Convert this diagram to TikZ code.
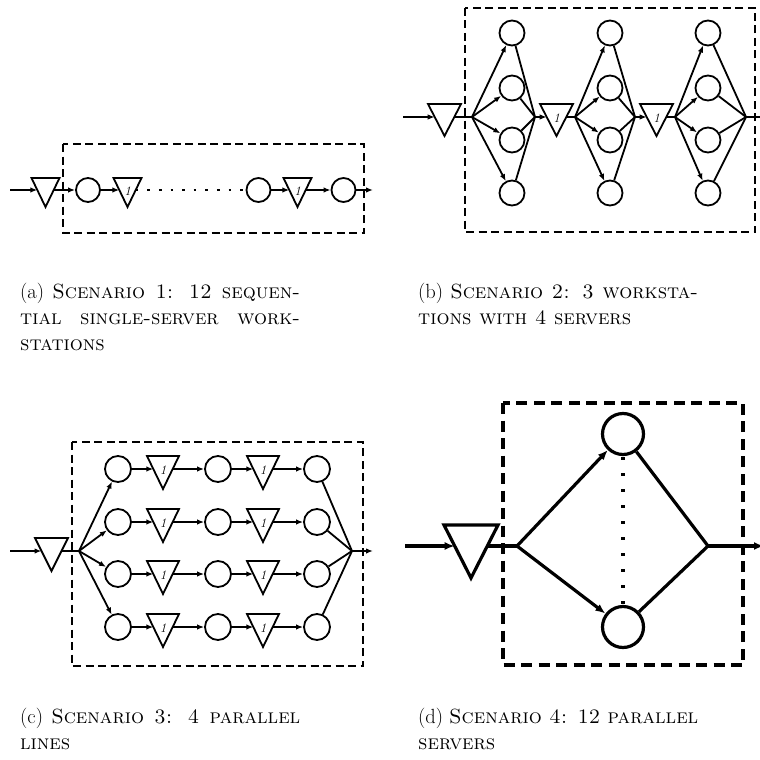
\documentclass[tikz,border=0pt]{standalone}
\usetikzlibrary{arrows.meta}
\begin{document}
\begin{tikzpicture}[x=1pt,y=-1pt,
  arr/.style={-{Latex[length=7pt,width=5.5pt]}},
  arrD/.style={-{Latex[length=10pt,width=8pt]}},
  srv/.style={circle,draw,inner sep=0pt,minimum size=#1},
  tri/.style={line join=miter},
  lbl/.style={font=\fontsize{13}{13}\selectfont\itshape, inner sep=0pt},
  box/.style={draw,dash pattern=on 8pt off 4.5pt},
  boxD/.style={draw,dash pattern=on 11pt off 6.5pt},
  dotline/.style={line width=2.6pt,dash pattern=on 2.6pt off 9pt},
  dotlineD/.style={line width=3.3pt,dash pattern=on 3.3pt off 12.7pt,dash phase=-1pt},
  captext/.style={font=\fontsize{20.5}{26}\selectfont, align=left, inner sep=0pt, anchor=base west},
  pics/buf/.style n args={4}{code={
    \draw[tri] (-#1,-#2) -- (#1,-#2) -- (0,#3) -- cycle;
    \coordinate (-in) at ({-#1*#3/(#2+#3)},0);
    \coordinate (-out) at ({#1*#3/(#2+#3)},0);
    \node[lbl] (-lab) at (0,1) {#4};
  }}
]
\useasboundingbox (0,0) rectangle (760,760);

% ---------------- (a) ----------------
\begin{scope}[line width=1.8pt]
\draw[box] (63,144) rectangle (364,233);
\coordinate (ain) at (10,190);
\pic (at0) at (45.5,190) {buf={14}{12}{17}{}};
\node[srv=24pt] (ac1) at (88,190) {};
\pic (at1) at (127.5,190) {buf={14}{12}{17}{1}};
\node[srv=24pt] (ac2) at (258.5,190) {};
\pic (at2) at (297.5,190) {buf={14}{12}{17}{1}};
\node[srv=24pt] (ac3) at (343.5,190) {};
\coordinate (aout) at (373,190);
\draw[arr] (ain) -- (at0-in);
\draw[arr] (at0-out) -- (ac1);
\draw[arr] (ac1) -- (at1-in);
\draw[dotline] (at1-out) -- (ac2);
\draw[arr] (ac2) -- (at2-in);
\draw[arr] (at2-out) -- (ac3);
\draw[arr] (ac3) -- (aout);
\end{scope}

% ---------------- (b) ----------------
\begin{scope}[line width=1.8pt]
\draw[box] (465,8) rectangle (755,232);
\coordinate (bin) at (403,117);
\pic (bt0) at (444.5,117) {buf={16.5}{13}{19}{}};
\pic (bt1) at (556.5,117) {buf={16.5}{13}{19}{1}};
\pic (bt2) at (656.5,117) {buf={16.5}{13}{19}{1}};
\coordinate (bs1) at (472,117);
\coordinate (bm1) at (535,117);
\coordinate (bs2) at (575,117);
\coordinate (bm2) at (635,117);
\coordinate (bs3) at (675,117);
\coordinate (bm3) at (746,117);
\coordinate (bout) at (772,117);
\foreach \c/\x in {1/512,2/610,3/708}{
  \foreach \r/\y in {1/33,2/88,3/140,4/193}{
    \node[srv=25pt] (b\c\r) at (\x,\y) {};
    \draw[arr] (bs\c) -- (b\c\r);
    \draw (b\c\r) -- (bm\c);
  }
}
\draw[arr] (bin) -- (bt0-in);
\draw (bt0-out) -- (bs1);
\draw[arr] (bm1) -- (bt1-in);
\draw (bt1-out) -- (bs2);
\draw[arr] (bm2) -- (bt2-in);
\draw (bt2-out) -- (bs3);
\draw[arr] (bm3) -- (bout);
\end{scope}

% ---------------- (c) ----------------
\begin{scope}[line width=1.8pt]
\draw[box] (72,442) rectangle (363,666);
\coordinate (cin) at (10,551);
\pic (ct0) at (51.5,551) {buf={16.5}{13}{20}{}};
\coordinate (cs) at (79,551);
\coordinate (cm) at (352,551);
\coordinate (cout) at (373,551);
\draw[arr] (cin) -- (ct0-in);
\draw (ct0-out) -- (cs);
\draw[arr] (cm) -- (cout);
\foreach \r/\y in {1/469,2/522,3/574,4/627}{
  \node[srv=26pt] (cc1\r) at (118,\y) {};
  \pic (cta\r) at (163,\y) {buf={16}{13}{20}{1}};
  \node[srv=26pt] (cc2\r) at (218,\y) {};
  \pic (ctb\r) at (263,\y) {buf={16}{13}{20}{1}};
  \node[srv=26pt] (cc3\r) at (317,\y) {};
  \draw[arr] (cs) -- (cc1\r);
  \draw[arr] (cc1\r) -- (cta\r-in);
  \draw[arr] (cta\r-out) -- (cc2\r);
  \draw[arr] (cc2\r) -- (ctb\r-in);
  \draw[arr] (ctb\r-out) -- (cc3\r);
  \draw (cc3\r) -- (cm);
}
\end{scope}

% ---------------- (d) ----------------
\begin{scope}[line width=3.2pt]
\draw[boxD] (503,403) rectangle (743,665);
\coordinate (din) at (405,546);
\pic (dt0) at (471,546) {buf={27}{21}{32}{}};
\coordinate (ds) at (517,546);
\coordinate (dm) at (708,546);
\coordinate (dout) at (764,546);
\node[srv=41pt] (dc1) at (623,434) {};
\node[srv=41pt] (dc2) at (623,627) {};
\draw[arrD] (din) -- (dt0-in);
\draw (dt0-out) -- (ds);
\draw[arrD] (ds) -- (dc1);
\draw[arrD] (ds) -- (dc2);
\draw (dc1) -- (dm);
\draw (dc2) -- (dm);
\draw[arrD] (dm) -- (dout);
\draw[dotlineD] (dc1.south) -- (dc2.north);
\end{scope}

% ---------------- captions ----------------
\node[captext] (capa) at (20,350) {\makebox[280pt][s]{(a) \textsc{Scenario 1: 12 sequen-}}\\
  \makebox[280pt][s]{\textsc{tial single-server work-}}\\
  \textsc{stations}};
\node[captext] (capb) at (418,324) {\makebox[280pt][s]{(b) \textsc{Scenario 2: 3 worksta-}}\\
  \textsc{tions with 4 servers}};
\node[captext] (capc) at (20,749) {\makebox[280pt][s]{(c) \textsc{Scenario 3: 4 parallel}}\\
  \textsc{lines}};
\node[captext] (capd) at (418,749) {\makebox[280pt][s]{(d) \textsc{Scenario 4: 12 parallel}}\\
  \textsc{servers}};
\end{tikzpicture}
\end{document}
